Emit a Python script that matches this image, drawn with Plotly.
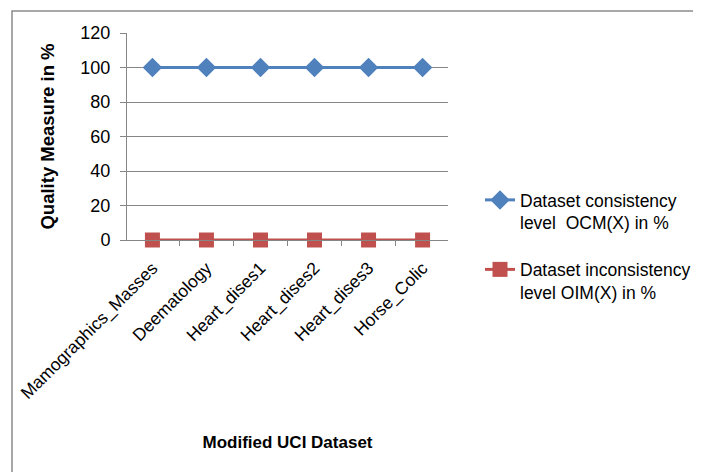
import plotly.graph_objects as go

categories = ["Mamographics_Masses", "Deematology", "Heart_dises1", "Heart_dises2", "Heart_dises3", "Horse_Colic"]
ocm_values = [100, 100, 100, 100, 100, 100]
oim_values = [0, 0, 0, 0, 0, 0]
y_ticks = [0, 20, 40, 60, 80, 100, 120]

FONT = "Liberation Sans"
GRAY = "#868686"
OFF = 8  # page body offset

W, H = 701 - OFF, 472 - OFF
L, T = 127 - OFF, 33 - OFF
R = W - (448 - OFF)
B = H - (240 - OFF)
PW, PH = W - L - R, H - T - B

fig = go.Figure()
fig.add_trace(go.Scatter(
    x=categories, y=ocm_values, mode="lines+markers",
    name="Dataset consistency<br>level  OCM(X) in %",
    line=dict(color="#4F81BD", width=3),
    marker=dict(symbol="diamond", size=15, color="#4F81BD"),
    legendgroup="a", cliponaxis=False,
))
fig.add_trace(go.Scatter(
    x=categories, y=oim_values, mode="lines+markers",
    name="Dataset inconsistency<br>level OIM(X) in %",
    line=dict(color="#C0504D", width=3),
    marker=dict(symbol="square", size=15, color="#C0504D"),
    legendgroup="b", cliponaxis=False,
))

fig.update_layout(
    width=W, height=H,
    margin=dict(l=L, r=R, t=T, b=B, autoexpand=False),
    paper_bgcolor="white", plot_bgcolor="white",
    font=dict(family=FONT, size=17, color="black"),
    showlegend=True,
    legend=dict(
        xref="container", yref="container",
        x=(480 - OFF) / W, y=1 - (182 - OFF) / H, xanchor="left", yanchor="top",
        font=dict(family=FONT, size=17.5, color="black"),
        valign="top", tracegroupgap=21, traceorder="grouped",
        bgcolor="rgba(0,0,0,0)",
    ),
    xaxis=dict(
        type="category", tickangle=-45,
        showline=True, linecolor=GRAY, linewidth=1,
        ticks="outside", tickson="boundaries", ticklen=5, tickcolor=GRAY,
        showgrid=False, zeroline=False, ticklabelstandoff=10,
        tickfont=dict(family=FONT, size=17.5, color="black"),
        title=dict(text="<b>Modified UCI Dataset</b>", font=dict(family=FONT, size=17), standoff=33),
    ),
    yaxis=dict(
        range=[0, 120], tickvals=y_ticks,
        showline=True, linecolor=GRAY, linewidth=1,
        ticks="outside", ticklen=6, tickcolor=GRAY,
        showgrid=True, gridcolor=GRAY, gridwidth=1, zeroline=False,
        ticklabelstandoff=6,
        tickfont=dict(family=FONT, size=18, color="black"),
        title=dict(text="<b>Quality Measure in %</b>", font=dict(family=FONT, size=18.5), standoff=20),
    ),
    shapes=[dict(
        type="rect", xref="paper", yref="paper",
        x0=(12 - 127) / PW, x1=3, y0=-3, y1=(240 - 11) / PH,
        line=dict(color="#8C8C8C", width=1.5), layer="below",
    )],
)

fig.write_html("out.html")
